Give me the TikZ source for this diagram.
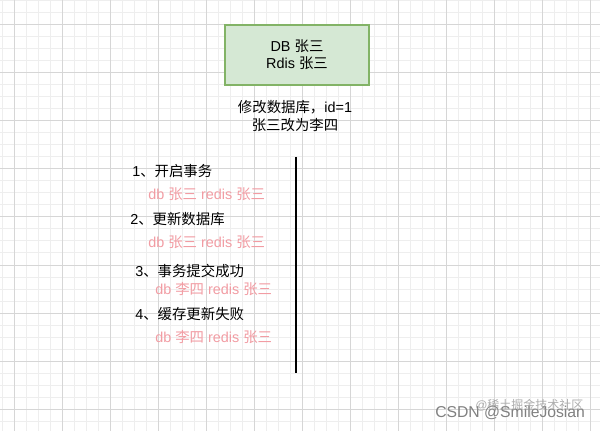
\documentclass[tikz,border=0pt]{standalone}
\usepackage{fontspec}
\setmainfont{Liberation Sans}
\newfontfamily\cjk{Noto Sans CJK SC}
\newcommand\Z[1]{{\cjk #1}}
\definecolor{gridmajor}{HTML}{D6D6D6}
\definecolor{gridminor}{HTML}{EEEEEE}
\definecolor{boxfill}{HTML}{D5E8D4}
\definecolor{boxdraw}{HTML}{82B366}
\definecolor{pinktxt}{HTML}{F29CA3}
\begin{document}
\begin{tikzpicture}[x=0.75pt,y=-0.75pt,
  txt/.style={inner sep=0pt,anchor=west,font=\fontsize{10.8}{13}\selectfont},
  pinkt/.style={txt,text=pinktxt},
  boxst/.style={draw=boxdraw,fill=boxfill,line width=0.9pt,minimum width=108pt,minimum height=45pt,inner sep=0pt,align=center,font=\fontsize{10.8}{13}\selectfont},
  wm/.style={inner sep=0pt,anchor=west}]
\useasboundingbox (0,0) rectangle (600,431);
\fill[white] (0,0) rectangle (600,431);
% grid
\foreach \x in {2,14,...,598} \draw[gridminor,line width=0.75pt] (\x,0) -- (\x,431);
\foreach \y in {1,13,...,431} \draw[gridminor,line width=0.75pt] (0,\y) -- (600,\y);
\foreach \x in {14,62,...,598} \draw[gridmajor,line width=0.75pt] (\x,0) -- (\x,431);
\foreach \y in {25,73,...,431} \draw[gridmajor,line width=0.75pt] (0,\y) -- (600,\y);
% top box
\node[boxst] (box) at (297,55) {DB \Z{张三}\\Rdis \Z{张三}};
\node[txt,anchor=center,align=center] (chg) at (295,116) {\Z{修改数据库，}id=1\\\Z{张三改为李四}};
% vertical line
\coordinate (vt) at (296,157);
\coordinate (vb) at (296,373);
\draw[line width=1.8pt] (vt) -- (vb);
% steps
\node[txt] (s1) at (132,171) {1\Z{、开启事务}};
\node[pinkt] (p1) at (148,194) {db \Z{张三} redis \Z{张三}};
\node[txt] (s2) at (130,219) {2\Z{、更新数据库}};
\node[pinkt] (p2) at (148,242) {db \Z{张三} redis \Z{张三}};
\node[txt] (s3) at (135,271) {3\Z{、事务提交成功}};
\node[pinkt] (p3) at (155,289) {db \Z{李四} redis \Z{张三}};
\node[txt] (s4) at (135,314) {4\Z{、缓存更新失败}};
\node[pinkt] (p4) at (155,337) {db \Z{李四} redis \Z{张三}};
% watermark
\node[wm,text=black!50,font=\fontsize{11.8}{13}\selectfont] (wm1) at (435,413) {CSDN @SmileJosian};
\node[wm,text=black!40,opacity=0.8,font=\fontsize{9}{11}\selectfont] (wm2) at (475,405) {@\Z{稀土掘金技术社区}};
\end{tikzpicture}
\end{document}
